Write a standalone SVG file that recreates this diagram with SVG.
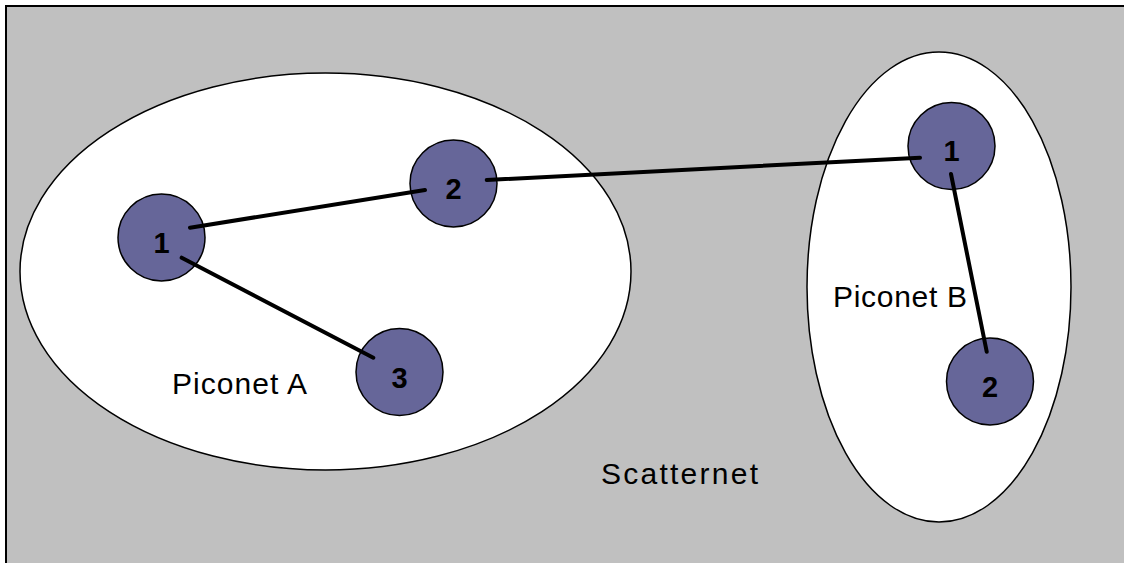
<svg xmlns="http://www.w3.org/2000/svg" width="1124" height="563" viewBox="0 0 1124 563">
<style>
.bg{fill:#C0C0C0;stroke:#000;stroke-width:2}
.net{fill:#fff;stroke:#000;stroke-width:1.5}
.dev{fill:#666699;stroke:#000;stroke-width:1.5}
.num{font-family:"Liberation Sans",Arial,sans-serif;font-weight:bold;font-size:29px;text-anchor:middle;fill:#000}
.lbl{font-family:"Liberation Sans",Arial,sans-serif;font-size:30px;fill:#000}
.link{stroke:#000;stroke-width:4;stroke-linecap:round;fill:none}
</style>
<rect class="bg" x="6" y="6" width="1130" height="570"/>
<g id="piconetA">
<ellipse class="net" cx="325.5" cy="271.5" rx="305.5" ry="198.5"/>
<text class="lbl" x="172" y="394" textLength="135" lengthAdjust="spacing">Piconet A</text>
</g>
<g id="piconetB">
<ellipse class="net" cx="939" cy="287" rx="132" ry="235"/>
<text class="lbl" x="833" y="306.5" textLength="134" lengthAdjust="spacing">Piconet B</text>
</g>
<g id="scatternet">
<text class="lbl" x="601" y="484" textLength="157" lengthAdjust="spacing">Scatternet</text>
</g>
<g id="nodeA1"><circle class="dev" cx="161.5" cy="237.5" r="43.5"/><text class="num" x="161.5" y="252.5">1</text></g>
<g id="nodeA2"><circle class="dev" cx="453.5" cy="183.5" r="43.5"/><text class="num" x="453.5" y="199">2</text></g>
<g id="nodeA3"><circle class="dev" cx="399.5" cy="372" r="43.5"/><text class="num" x="399.5" y="387.5">3</text></g>
<g id="nodeB1"><circle class="dev" cx="951.5" cy="146" r="43.5"/><text class="num" x="951.5" y="161">1</text></g>
<g id="nodeB2"><circle class="dev" cx="990" cy="381.5" r="43.5"/><text class="num" x="990" y="397">2</text></g>
<g id="connectors">
<line class="link" x1="190" y1="227.7" x2="425" y2="190"/>
<line class="link" x1="181.7" y1="257.7" x2="373.3" y2="357.7"/>
<line class="link" x1="486.7" y1="180" x2="920" y2="157.7"/>
<line class="link" x1="951" y1="174" x2="986.7" y2="351.7"/>
</g>
</svg>
